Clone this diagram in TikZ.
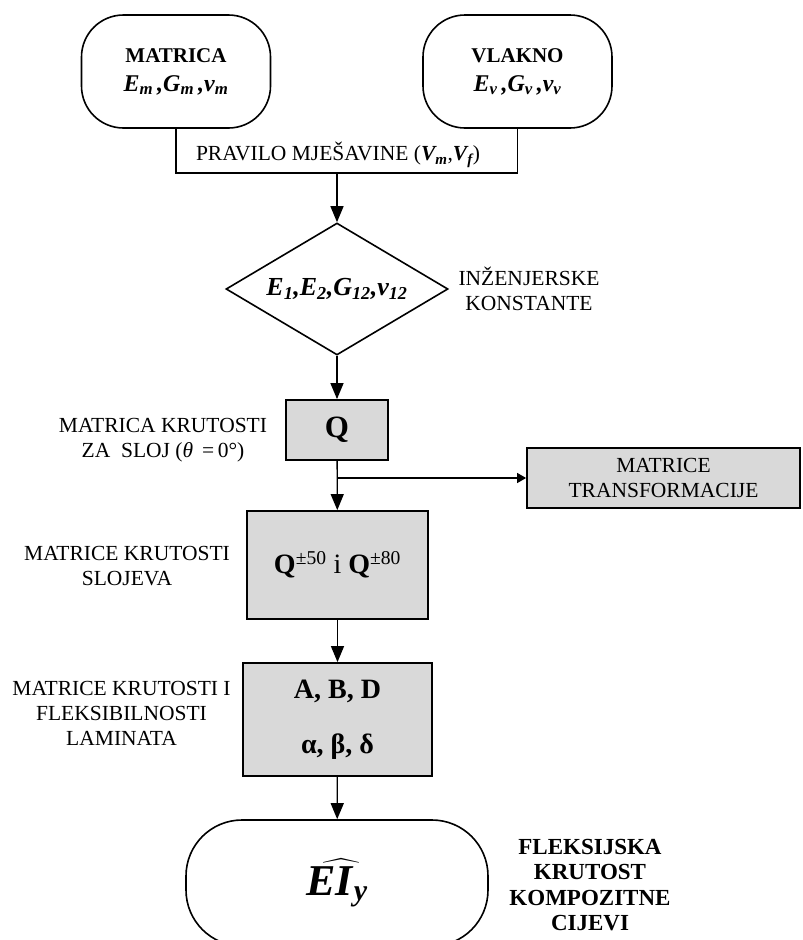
\documentclass[tikz,border=0pt]{standalone}
\usepackage{amsmath}
\usepackage{fontspec}
\setmainfont{Liberation Serif}
\usetikzlibrary{shapes.geometric,arrows.meta}
\newcommand{\bi}[1]{\textbf{\textit{#1}}}
\newcommand{\sz}[2]{\fontsize{#1}{#2}\selectfont}

\begin{document}
\begin{tikzpicture}[x=1pt,y=-1pt,
    pill/.style={draw,line width=1.6pt,rounded corners=42pt,minimum width=189pt,minimum height=113pt,align=center,inner sep=0pt,font=\sz{21}{29}},
    graybox/.style={draw,line width=1.8pt,fill=black!15,inner sep=0pt,align=center,font=\bfseries\sz{28}{34}},
    note/.style={align=center,font=\sz{21.5}{25}},
    arr/.style={line width=1.3pt,-{Triangle[width=13pt,length=16pt]}},
    smallarr/.style={line width=1.3pt,-{Triangle[width=10pt,length=9pt]}}]
      \useasboundingbox (0,0) rectangle (803,940);
      % top inputs
      \node[pill] (matrica) at (176,71.5) {\textbf{MATRICA}\\{\sz{24}{29}\bi{E\textsubscript{m}\,,G\textsubscript{m}\,,v\textsubscript{m}}}};
      \node[pill] (vlakno) at (517.5,71.5) {\textbf{VLAKNO}\\{\sz{24}{29}\bi{E\textsubscript{v}\,,G\textsubscript{v}\,,v\textsubscript{v}}}};
      \node[note] (pravilo) at (338,155) {PRAVILO MJEŠAVINE (\bi{V\textsubscript{m}},\bi{V\textsubscript{f}})};
      \coordinate (mix) at (337,173);
      \draw[line width=1.6pt] (matrica.south) |- (mix) -| (vlakno.south);
      % engineering constants
      \node[draw,diamond,aspect=1.68,line width=1.6pt,inner sep=0pt,minimum width=222pt,minimum height=132pt,font=\sz{26}{30}]
        (konst) at (337,289) {\bi{E\textsubscript{1},E\textsubscript{2},G\textsubscript{12},v\textsubscript{12}}};
      \node[note] (inz) at (529,289) {INŽENJERSKE\\KONSTANTE};
      \draw[arr] (mix) -- (konst);
      % stiffness of a layer
      \node[graybox,minimum width=102pt,minimum height=60pt,font=\bfseries\sz{31}{34}] (q) at (337,430) {Q};
      \node[note] (qlab) at (163,440) {MATRICA KRUTOSTI\\ZA\ \ SLOJ (\textit{θ} \,=\,0°)};
      \draw[arr] (konst) -- (q);
      \node[graybox,minimum width=273pt,minimum height=60pt,font=\sz{21.5}{25}] (trans) at (663.5,478) {MATRICE\\TRANSFORMACIJE};
      \node[graybox,minimum width=181pt,minimum height=108pt] (qpm) at (337.5,565)
        {Q\textsuperscript{\mdseries ±50} {\mdseries i} Q\textsuperscript{\mdseries ±80}};
      \node[note] (qpmlab) at (127,566) {MATRICE KRUTOSTI\\SLOJEVA};
      \coordinate (br) at (337,478);
      \draw[arr] (q) -- (qpm);
      \draw[smallarr] (br) -- (trans);
      % laminate
      \node[graybox,minimum width=189pt,minimum height=113pt] (abd) at (337.5,719.5) {A, B, D\\[21pt]α, β, δ};
      \node[note] (abdlab) at (121.5,713) {MATRICE KRUTOSTI I\\FLEKSIBILNOSTI\\LAMINATA};
      \draw[arr] (qpm) -- (abd);
      % result
      \node[pill,minimum width=302pt,minimum height=126pt,rounded corners=56pt,font=\sz{44}{50}] (ei) at (337,883)
        {$\widehat{\mbox{\bi{EI}}_{\mbox{\bi{\sz{30}{34}y}}}\kern8pt}\kern-8pt$};
      \node[note,font=\bfseries\sz{23}{25.5}] (eilab) at (590,885) {FLEKSIJSKA\\KRUTOST\\KOMPOZITNE\\CIJEVI};
      \draw[arr] (abd) -- (ei);
\end{tikzpicture}
\end{document}
